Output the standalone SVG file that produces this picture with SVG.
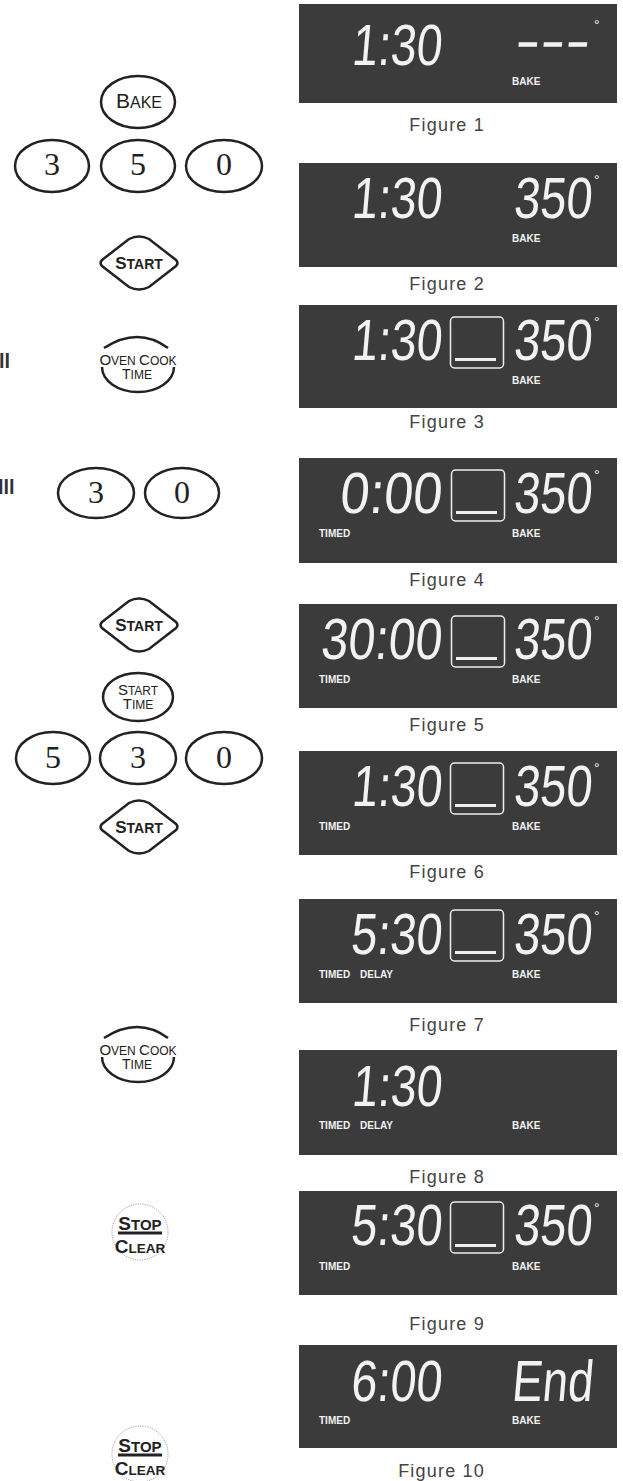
<svg xmlns="http://www.w3.org/2000/svg" width="623" height="1481" viewBox="0 0 623 1481">
<style>
.panel{fill:#3b3b3b}
.seg{font-family:"Liberation Sans",Arial,sans-serif;font-size:58px;fill:#f2f2f2}
.lbl{font-family:"Liberation Sans",Arial,sans-serif;font-weight:bold;font-size:10px;fill:#f2f2f2}
.deg{font-family:"Liberation Sans",Arial,sans-serif;font-size:14px;fill:#f2f2f2}
.fig{font-family:"Liberation Sans",Arial,sans-serif;font-size:18px;letter-spacing:1.2px;fill:#444;text-anchor:end}
.box{fill:none;stroke:#eeeeee;stroke-width:1.5}
.und{fill:#eeeeee}
.btn{fill:none;stroke:#222;stroke-width:2.5}
.key{font-family:"Liberation Serif","Times New Roman",serif;font-size:32px;fill:#222;text-anchor:middle}
.cap{font-family:"Liberation Sans",Arial,sans-serif;fill:#222;text-anchor:middle}
.bold{font-weight:bold}
.dot{fill:none;stroke:#888;stroke-width:1;stroke-dasharray:1 1.4}
.frag{font-family:"Liberation Sans",Arial,sans-serif;font-weight:bold;font-size:20px;fill:#333}
</style>
<defs>
<path id="diamond" class="btn" d="M-37,-3 L-10,-24 Q0,-29 10,-24 L37,-3 Q40,0 37,3 L10,24 Q0,29 -10,24 L-37,3 Q-40,0 -37,-3 Z"/>
</defs>

<g id="connectors"/>

<g id="fragments">
<text class="frag" x="-1" y="368">ll</text>
<text class="frag" x="-2" y="494">lll</text>
</g>

<g id="btn-bake">
<ellipse class="btn" cx="138" cy="102" rx="37" ry="26"/>
<text class="cap" x="139" y="108"><tspan font-size="21">B</tspan><tspan font-size="16">AKE</tspan></text>
</g>
<g id="btn-3a"><ellipse class="btn" cx="52" cy="166" rx="37" ry="26"/><text class="key" x="52" y="175">3</text></g>
<g id="btn-5a"><ellipse class="btn" cx="138" cy="166" rx="37" ry="26"/><text class="key" x="138" y="175">5</text></g>
<g id="btn-0a"><ellipse class="btn" cx="224" cy="166" rx="38" ry="26"/><text class="key" x="224" y="175">0</text></g>
<g id="btn-start1">
<use href="#diamond" x="139" y="263"/>
<text class="cap bold" x="139" y="269"><tspan font-size="17">S</tspan><tspan font-size="14">TART</tspan></text>
</g>
<g id="btn-ovencook1">
<path class="btn" d="M104,348 Q138,326 168,348"/>
<path class="btn" d="M102,367 A36,25 0 0 0 174,367"/>
<text class="cap"><tspan x="138" y="365"><tspan font-size="15">O</tspan><tspan font-size="12">VEN </tspan><tspan font-size="15">C</tspan><tspan font-size="12">OOK</tspan></tspan><tspan x="137" y="379"><tspan font-size="14">T</tspan><tspan font-size="12">IME</tspan></tspan></text>
</g>
<g id="btn-3b"><ellipse class="btn" cx="96" cy="493" rx="38" ry="25"/><text class="key" x="96" y="503">3</text></g>
<g id="btn-0b"><ellipse class="btn" cx="182" cy="493" rx="37" ry="25"/><text class="key" x="182" y="503">0</text></g>
<g id="btn-start2">
<use href="#diamond" x="139" y="625"/>
<text class="cap bold" x="139" y="631"><tspan font-size="17">S</tspan><tspan font-size="14">TART</tspan></text>
</g>
<g id="btn-starttime">
<ellipse class="btn" cx="138" cy="697" rx="35" ry="24" stroke-width="3"/>
<text class="cap"><tspan x="138" y="695"><tspan font-size="15">S</tspan><tspan font-size="12">TART</tspan></tspan><tspan x="138" y="709"><tspan font-size="15">T</tspan><tspan font-size="12">IME</tspan></tspan></text>
</g>
<g id="btn-5c"><ellipse class="btn" cx="53" cy="758" rx="37" ry="26"/><text class="key" x="53" y="768">5</text></g>
<g id="btn-3c"><ellipse class="btn" cx="138" cy="758" rx="38" ry="26"/><text class="key" x="138" y="768">3</text></g>
<g id="btn-0c"><ellipse class="btn" cx="224" cy="758" rx="38" ry="26"/><text class="key" x="224" y="768">0</text></g>
<g id="btn-start3">
<use href="#diamond" x="139" y="827"/>
<text class="cap bold" x="139" y="833"><tspan font-size="17">S</tspan><tspan font-size="14">TART</tspan></text>
</g>
<g id="btn-ovencook2">
<path class="btn" d="M104,1038 Q138,1016 168,1038"/>
<path class="btn" d="M102,1057 A36,25 0 0 0 174,1057"/>
<text class="cap"><tspan x="138" y="1055"><tspan font-size="15">O</tspan><tspan font-size="12">VEN </tspan><tspan font-size="15">C</tspan><tspan font-size="12">OOK</tspan></tspan><tspan x="137" y="1069"><tspan font-size="14">T</tspan><tspan font-size="12">IME</tspan></tspan></text>
</g>
<g id="btn-stop1">
<circle class="dot" cx="140" cy="1232" r="28"/>
<text class="cap bold"><tspan x="140" y="1230"><tspan font-size="19">S</tspan><tspan font-size="15">TOP</tspan></tspan><tspan x="140" y="1253"><tspan font-size="19">C</tspan><tspan font-size="13.5">LEAR</tspan></tspan></text>
<rect x="118" y="1231.5" width="44" height="3" fill="#222"/>
</g>
<g id="btn-stop2">
<circle class="dot" cx="140" cy="1454" r="28"/>
<text class="cap bold"><tspan x="140" y="1452"><tspan font-size="19">S</tspan><tspan font-size="15">TOP</tspan></tspan><tspan x="140" y="1475"><tspan font-size="19">C</tspan><tspan font-size="13.5">LEAR</tspan></tspan></text>
<rect x="118" y="1453.5" width="44" height="3" fill="#222"/>
</g>

<g id="fig1">
<rect class="panel" x="299" y="4" width="318" height="99"/>
<text class="seg" transform="translate(351,65) skewX(-5)" textLength="90" lengthAdjust="spacingAndGlyphs">1:30</text>
<text class="seg" transform="translate(514,60) skewX(-5)" textLength="75" lengthAdjust="spacingAndGlyphs">---</text>
<text class="deg" x="594" y="30">°</text>
<text class="lbl" x="512" y="85">BAKE</text>
<text class="fig" x="485" y="131">Figure 1</text>
</g>
<g id="fig2">
<rect class="panel" x="299" y="163" width="318" height="104"/>
<text class="seg" transform="translate(351,218) skewX(-5)" textLength="90" lengthAdjust="spacingAndGlyphs">1:30</text>
<text class="seg" transform="translate(513,218) skewX(-5)" textLength="78" lengthAdjust="spacingAndGlyphs">350</text>
<text class="deg" x="594" y="185">°</text>
<text class="lbl" x="512" y="242">BAKE</text>
<text class="fig" x="485" y="290">Figure 2</text>
</g>
<g id="fig3">
<rect class="panel" x="299" y="305" width="318" height="103"/>
<text class="seg" transform="translate(351,360) skewX(-5)" textLength="90" lengthAdjust="spacingAndGlyphs">1:30</text>
<rect class="box" x="450.5" y="317" width="53" height="51" rx="4"/>
<rect class="und" x="455" y="358" width="41" height="3"/>
<text class="seg" transform="translate(513,360) skewX(-5)" textLength="78" lengthAdjust="spacingAndGlyphs">350</text>
<text class="deg" x="594" y="327">°</text>
<text class="lbl" x="512" y="384">BAKE</text>
<text class="fig" x="485" y="428">Figure 3</text>
</g>
<g id="fig4">
<rect class="panel" x="299" y="458" width="318" height="105"/>
<text class="seg" transform="translate(339,513) skewX(-5)" textLength="102" lengthAdjust="spacingAndGlyphs">0:00</text>
<rect class="box" x="451.5" y="470" width="53" height="51" rx="4"/>
<rect class="und" x="456" y="511" width="41" height="3"/>
<text class="seg" transform="translate(513,513) skewX(-5)" textLength="78" lengthAdjust="spacingAndGlyphs">350</text>
<text class="deg" x="594" y="480">°</text>
<text class="lbl" x="319" y="537">TIMED</text>
<text class="lbl" x="512" y="537">BAKE</text>
<text class="fig" x="485" y="586">Figure 4</text>
</g>
<g id="fig5">
<rect class="panel" x="299" y="604" width="318" height="104"/>
<text class="seg" transform="translate(320,659) skewX(-5)" textLength="121" lengthAdjust="spacingAndGlyphs">30:00</text>
<rect class="box" x="451.5" y="616" width="53" height="51" rx="4"/>
<rect class="und" x="456" y="657" width="41" height="3"/>
<text class="seg" transform="translate(513,659) skewX(-5)" textLength="78" lengthAdjust="spacingAndGlyphs">350</text>
<text class="deg" x="594" y="626">°</text>
<text class="lbl" x="319" y="683">TIMED</text>
<text class="lbl" x="512" y="683">BAKE</text>
<text class="fig" x="485" y="731">Figure 5</text>
</g>
<g id="fig6">
<rect class="panel" x="299" y="751" width="318" height="104"/>
<text class="seg" transform="translate(351,806) skewX(-5)" textLength="90" lengthAdjust="spacingAndGlyphs">1:30</text>
<rect class="box" x="450.5" y="763" width="53" height="51" rx="4"/>
<rect class="und" x="455" y="804" width="41" height="3"/>
<text class="seg" transform="translate(513,806) skewX(-5)" textLength="78" lengthAdjust="spacingAndGlyphs">350</text>
<text class="deg" x="594" y="773">°</text>
<text class="lbl" x="319" y="830">TIMED</text>
<text class="lbl" x="512" y="830">BAKE</text>
<text class="fig" x="485" y="878">Figure 6</text>
</g>
<g id="fig7">
<rect class="panel" x="299" y="899" width="318" height="104"/>
<text class="seg" transform="translate(350,954) skewX(-5)" textLength="91" lengthAdjust="spacingAndGlyphs">5:30</text>
<rect class="box" x="450.5" y="910" width="53" height="51" rx="4"/>
<rect class="und" x="455" y="951" width="41" height="3"/>
<text class="seg" transform="translate(513,954) skewX(-5)" textLength="78" lengthAdjust="spacingAndGlyphs">350</text>
<text class="deg" x="594" y="921">°</text>
<text class="lbl" x="319" y="978">TIMED</text>
<text class="lbl" x="360" y="978">DELAY</text>
<text class="lbl" x="512" y="978">BAKE</text>
<text class="fig" x="485" y="1031">Figure 7</text>
</g>
<g id="fig8">
<rect class="panel" x="299" y="1050" width="318" height="105"/>
<text class="seg" transform="translate(351,1106) skewX(-5)" textLength="90" lengthAdjust="spacingAndGlyphs">1:30</text>
<text class="lbl" x="319" y="1129">TIMED</text>
<text class="lbl" x="360" y="1129">DELAY</text>
<text class="lbl" x="512" y="1129">BAKE</text>
<text class="fig" x="485" y="1183">Figure 8</text>
</g>
<g id="fig9">
<rect class="panel" x="299" y="1191" width="318" height="104"/>
<text class="seg" transform="translate(350,1245) skewX(-5)" textLength="91" lengthAdjust="spacingAndGlyphs">5:30</text>
<rect class="box" x="450.5" y="1202" width="53" height="51" rx="4"/>
<rect class="und" x="455" y="1244" width="41" height="3"/>
<text class="seg" transform="translate(513,1245) skewX(-5)" textLength="78" lengthAdjust="spacingAndGlyphs">350</text>
<text class="deg" x="594" y="1213">°</text>
<text class="lbl" x="319" y="1270">TIMED</text>
<text class="lbl" x="512" y="1270">BAKE</text>
<text class="fig" x="485" y="1330">Figure 9</text>
</g>
<g id="fig10">
<rect class="panel" x="299" y="1345" width="318" height="103"/>
<text class="seg" transform="translate(350,1401) skewX(-5)" textLength="91" lengthAdjust="spacingAndGlyphs">6:00</text>
<text class="seg" transform="translate(511,1401) skewX(-5)" textLength="81" lengthAdjust="spacingAndGlyphs">End</text>
<text class="lbl" x="319" y="1424">TIMED</text>
<text class="lbl" x="512" y="1424">BAKE</text>
<text class="fig" x="485" y="1477">Figure 10</text>
</g>
</svg>
